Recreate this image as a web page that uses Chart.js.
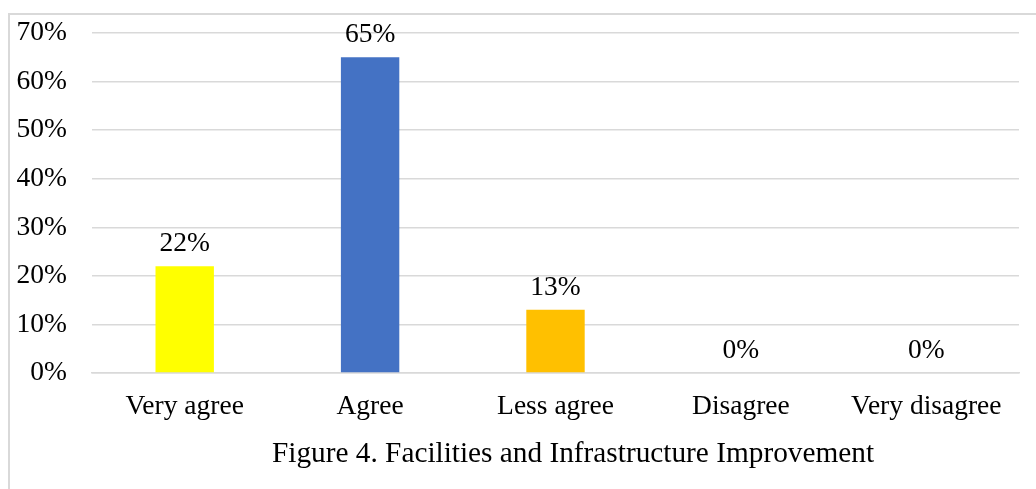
<!DOCTYPE html>
<html>
<head>
<meta charset="utf-8">
<script src="https://cdn.jsdelivr.net/npm/chart.js@4/dist/chart.umd.min.js"></script>
<style>
  html, body { margin: 0; padding: 0; background: #fff; }
  #wrap { position: relative; width: 1036px; height: 489px; overflow: hidden; }
  #frame { position: absolute; left: 8px; top: 13px; width: 1040px; height: 490px;
           border-top: 2px solid #d9d9d9; border-left: 2px solid #d9d9d9; box-sizing: border-box; }
  #chart { position: absolute; left: 0; top: 0; }
  #caption { position: absolute; left: 0; top: 435px; width: 1146px; text-align: center;
             font-family: "Liberation Serif", "Times New Roman", serif; font-size: 29.3px; color: #000;
             line-height: 34px; white-space: nowrap; }
</style>
</head>
<body>
<div id="wrap">
  <div id="frame"></div>
  <canvas id="chart" width="1036" height="489"></canvas>
  <div id="caption">Figure 4. Facilities and Infrastructure Improvement</div>
</div>
<script>
// Survey responses (percent of respondents)
const categories = ["Very agree", "Agree", "Less agree", "Disagree", "Very disagree"];
const percentages = [22, 65, 13, 0, 0];
const barColors = ["#FFFF00", "#4472C4", "#FFC000", "#A5A5A5", "#5B9BD5"];
const yTicks = [0, 10, 20, 30, 40, 50, 60, 70];

const serif = "'Liberation Serif', 'Times New Roman', serif";
const fontSize = 27.5;

// Writes the percentage above each bar
const valueLabels = {
  id: "valueLabels",
  afterDatasetsDraw(chart) {
    const ctx = chart.ctx;
    const meta = chart.getDatasetMeta(0);
    ctx.save();
    ctx.font = fontSize + "px " + serif;
    ctx.fillStyle = "#000";
    ctx.textAlign = "center";
    ctx.textBaseline = "alphabetic";
    meta.data.forEach((bar, i) => {
      ctx.fillText(Math.round(percentages[i]) + "%", bar.x, bar.y - 15);
    });
    ctx.restore();
  }
};

new Chart(document.getElementById("chart"), {
  type: "bar",
  data: {
    labels: categories,
    datasets: [{
      data: percentages,
      backgroundColor: barColors,
      borderWidth: 0,
      barPercentage: 0.63,
      categoryPercentage: 0.5
    }]
  },
  options: {
    responsive: false,
    animation: false,
    layout: { padding: { top: 33, right: 17, bottom: 0, left: 0 } },
    plugins: { legend: { display: false }, tooltip: { enabled: false } },
    scales: {
      x: {
        grid: { display: false, drawTicks: false },
        border: { display: true, color: "#d9d9d9", width: 1.5 },
        ticks: { font: { family: serif, size: fontSize }, color: "#000", padding: 17, maxRotation: 0 },
        afterFit(scale) { scale.height = 116; }
      },
      y: {
        min: 0,
        max: 70,
        afterBuildTicks(scale) { scale.ticks = yTicks.map(v => ({ value: v })); },
        grid: { color: "#d9d9d9", lineWidth: 1.5, drawTicks: false },
        border: { display: false },
        ticks: { font: { family: serif, size: fontSize }, color: "#000", padding: 25,
                 callback: v => v + "%" },
        afterFit(scale) {
          scale.width = 92;
          scale.paddingTop = 16;
          scale.paddingBottom = 16;
        }
      }
    }
  },
  plugins: [valueLabels]
});
</script>
</body>
</html>
